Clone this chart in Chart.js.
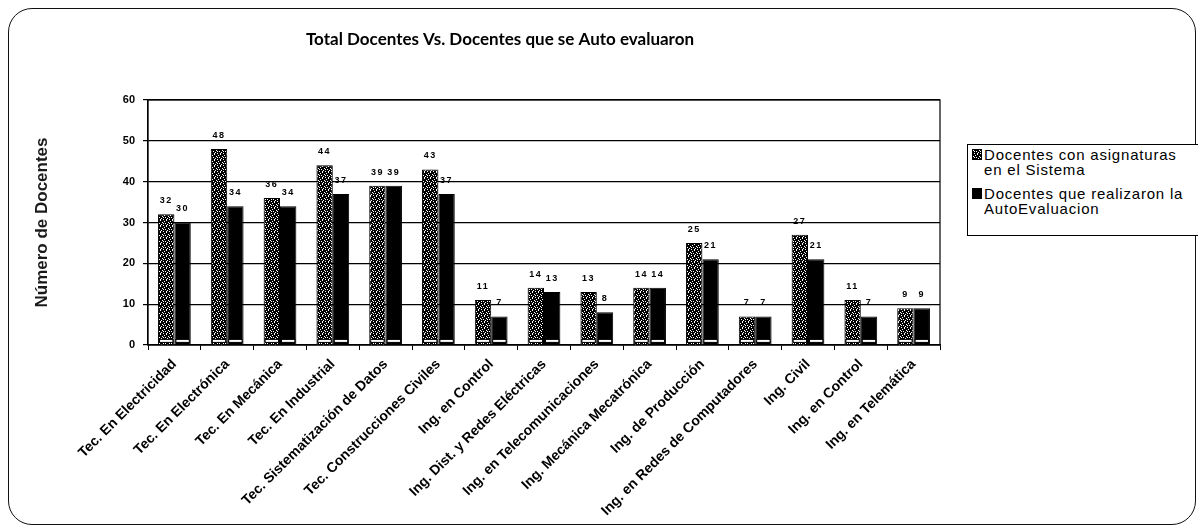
<!DOCTYPE html>
<html lang="es">
<head>
  <meta charset="UTF-8">
  <title>Total Docentes Vs. Docentes que se Auto evaluaron</title>
  <style>
    body {
      margin: 0;
      width: 1198px;
      height: 529px;
      overflow: hidden;
      background: #ffffff;
      font-family: 'Liberation Sans', Arial, sans-serif;
      position: relative;
    }
    .marco {
      position: absolute;
      left: 8px;
      top: 8px;
      width: 1186px;
      height: 515px;
      border: 1.5px solid #111;
      border-radius: 24px;
    }
    #grafico {
      position: absolute;
      left: 0;
      top: 0;
    }
    .leyenda {
      position: absolute;
      left: 967px;
      top: 144px;
      width: 260px;
      height: 90px;
      border: 1px solid #000;
      background: #fff;
      font-size: 15px;
      color: #000;
      letter-spacing: 0.8px;
      line-height: 15px;
    }
    .item {
      position: relative;
      padding-left: 16px;
      margin-top: 2px;
      white-space: nowrap;
    }
    .item + .item { margin-top: 9px; }
    .cuadro {
      position: absolute;
      left: 4px;
      top: 2px;
      width: 8px;
      height: 9px;
      border: 1px solid #000;
    }
  </style>
</head>
<body>
  <div class="marco"></div>
  <canvas id="grafico" width="960" height="529"></canvas>
  <div class="leyenda">
    <div class="item"><span class="cuadro" id="cuadro1"></span>Docentes con asignaturas<br>en el Sistema</div>
    <div class="item"><span class="cuadro" style="background:#000"></span>Docentes que realizaron la<br>AutoEvaluacion</div>
  </div>

  <script src="https://cdn.jsdelivr.net/npm/chart.js"></script>
  <script>
    const programas = [
      'Tec. En Electricidad', 'Tec. En Electrónica', 'Tec. En Mecánica', 'Tec. En Industrial',
      'Tec. Sistematización de Datos', 'Tec. Construcciones Civiles', 'Ing. en Control',
      'Ing. Dist. y Redes Eléctricas', 'Ing. en Telecomunicaciones', 'Ing. Mecánica Mecatrónica',
      'Ing. de Producción', 'Ing. en Redes de Computadores', 'Ing. Civil', 'Ing. en Control',
      'Ing. en Telemática'
    ];
    const conAsignaturas = [32, 48, 36, 44, 39, 43, 11, 14, 13, 14, 25, 7, 27, 11, 9];
    const autoEvaluados  = [30, 34, 34, 37, 39, 37, 7, 13, 8, 14, 21, 7, 21, 7, 9];
    const marcasY = [0, 10, 20, 30, 40, 50, 60];

    // trama punteada para la primera serie
    const trama = document.createElement('canvas');
    trama.width = 6; trama.height = 6;
    const tctx = trama.getContext('2d');
    tctx.fillStyle = '#000';
    tctx.fillRect(0, 0, 6, 6);
    tctx.fillStyle = '#fff';
    [[0,0],[3,1],[1,3],[4,4],[2,5],[5,2],[1,1],[4,3]].forEach(p => tctx.fillRect(p[0], p[1], 1, 1));
    const relleno = document.getElementById('grafico').getContext('2d').createPattern(trama, 'repeat');
    document.getElementById('cuadro1').style.background = 'url(' + trama.toDataURL() + ')';

    const valores = {
      id: 'valores',
      afterDatasetsDraw(chart) {
        const ctx = chart.ctx;
        ctx.save();
        chart.data.datasets.forEach((ds, i) => {
          chart.getDatasetMeta(i).data.forEach((bar, j) => {
            // base blanca de cada barra
            const w = bar.width;
            ctx.fillStyle = '#fff';
            ctx.strokeStyle = '#000';
            ctx.lineWidth = 1;
            ctx.fillRect(bar.x - w / 2 + 1.5, bar.base - 5, w - 3, 3);
            ctx.strokeRect(bar.x - w / 2 + 1.5, bar.base - 5, w - 3, 3);
            ctx.fillStyle = '#000';
            ctx.font = 'bold 9px "Liberation Sans", Arial';
            ctx.letterSpacing = '1.5px';
            ctx.textAlign = 'center';
            ctx.textBaseline = 'bottom';
            ctx.fillText(ds.data[j], bar.x, bar.y - 9);
          });
        });
        ctx.restore();
      }
    };

    const bordeArea = {
      id: 'bordeArea',
      beforeDatasetsDraw(chart) {
        const a = chart.chartArea;
        const ctx = chart.ctx;
        ctx.save();
        ctx.strokeStyle = '#000';
        ctx.lineWidth = 1.2;
        ctx.strokeRect(a.left, a.top, a.right - a.left, a.bottom - a.top);
        ctx.restore();
      }
    };

    new Chart(document.getElementById('grafico'), {
      type: 'bar',
      data: {
        labels: programas,
        datasets: [
          {
            label: 'Docentes con asignaturas en el Sistema',
            data: conAsignaturas,
            backgroundColor: relleno,
            borderColor: '#000',
            borderWidth: 1
          },
          {
            label: 'Docentes que realizaron la AutoEvaluacion',
            data: autoEvaluados,
            backgroundColor: '#000',
            borderColor: '#000',
            borderWidth: 1
          }
        ]
      },
      options: {
        responsive: false,
        animation: false,
        categoryPercentage: 0.62,
        barPercentage: 1.0,
        layout: { padding: { left: 60, right: 20, top: 29, bottom: 0 } },
        plugins: {
          legend: { display: false },
          tooltip: { enabled: false },
          title: {
            display: true,
            text: 'Total Docentes Vs. Docentes que se Auto evaluaron',
            color: '#000',
            font: { family: 'Lato', size: 17, weight: 'bold' },
            padding: { top: 0, bottom: 50.6 }
          }
        },
        scales: {
          x: {
            offset: true,
            grid: { drawOnChartArea: false, drawTicks: true, tickLength: 5, color: '#000' },
            border: { color: '#000', width: 1.2 },
            ticks: {
              autoSkip: false,
              minRotation: 45,
              maxRotation: 45,
              padding: 6,
              color: '#000',
              font: { family: 'Liberation Sans', size: 14, weight: 'bold' }
            },
            afterFit(s) { s.height = 184; }
          },
          y: {
            min: marcasY[0],
            max: marcasY[marcasY.length - 1],
            afterBuildTicks(s) { s.ticks = marcasY.map(v => ({ value: v })); },
            grid: { color: '#000', lineWidth: 1.2, tickLength: 5 },
            border: { color: '#000', width: 1.2 },
            ticks: {
              padding: 8,
              color: '#000',
              font: { family: 'Liberation Sans', size: 11, weight: 'bold' }
            },
            title: {
              display: true,
              text: 'Número de Docentes',
              color: '#1a1a1a',
              font: { family: 'Liberation Sans', size: 17, weight: 'bold' },
              padding: { top: -28, bottom: 0 }
            },
            afterFit(s) { s.width = 88; }
          }
        }
      },
      plugins: [valores, bordeArea]
    });
  </script>
</body>
</html>
